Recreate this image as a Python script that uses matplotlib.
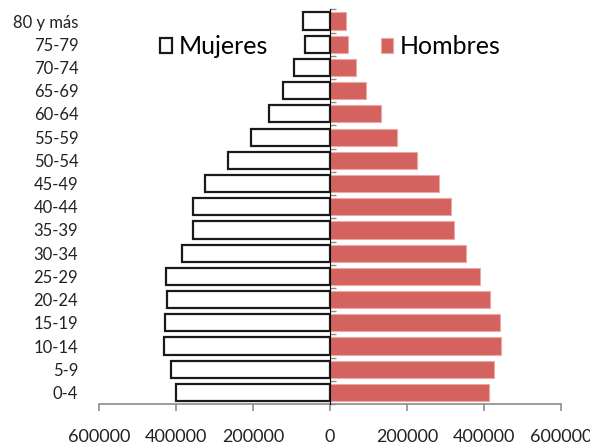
import matplotlib

matplotlib.use("Agg")
import matplotlib.pyplot as plt
from matplotlib.ticker import FuncFormatter

plt.rcParams["font.family"] = ["Lato", "DejaVu Sans"]

grupos = ["0-4", "5-9", "10-14", "15-19", "20-24", "25-29", "30-34", "35-39",
          "40-44", "45-49", "50-54", "55-59", "60-64", "65-69", "70-74",
          "75-79", "80 y más"]
mujeres = [400000, 412000, 432000, 430000, 424000, 425000, 385000, 356000,
           356000, 325000, 265000, 206000, 158000, 122000, 95000, 65000, 70000]
hombres = [414000, 426000, 444000, 441000, 415000, 390000, 352000, 322000,
           315000, 283000, 225000, 174000, 132000, 94000, 66000, 46000, 40000]
xticks = [-600000, -400000, -200000, 0, 200000, 400000, 600000]

fig = plt.figure(figsize=(5.9, 4.48), dpi=100)
ax = fig.add_axes([0.168, 0.098, 0.783, 0.881])

pos = range(len(grupos))
ax.barh(pos, [-v for v in mujeres], height=0.74, color="white",
        edgecolor="#1a1a1a", linewidth=1.6, label="Mujeres", zorder=2)
ax.barh(pos, hombres, height=0.74, color="#D4625E",
        edgecolor="#E9A9A6", linewidth=0.8, label="Hombres", zorder=2)

ax.set_ylim(-0.5, len(grupos) - 0.5)
ax.set_xlim(-600000, 600000)
ax.set_yticks(list(pos))
ax.set_yticklabels(grupos, fontsize=12, color="#222222")
ax.tick_params(axis="y", length=0, pad=15)
ax.set_xticks(xticks)
ax.xaxis.set_major_formatter(FuncFormatter(lambda v, p: f"{abs(int(v))}"))
ax.tick_params(axis="x", length=5, width=1.2, color="#8c8c8c",
               labelsize=13, labelcolor="#222222", pad=13)

for s in ["top", "right", "left"]:
    ax.spines[s].set_visible(False)
ax.spines["bottom"].set_color("#8c8c8c")
ax.spines["bottom"].set_linewidth(1.2)

# eje vertical en el cero, con marcas entre grupos
eje = ax.secondary_yaxis(0.5)
eje.set_yticks([i - 0.5 for i in range(len(grupos) + 1)])
eje.set_yticklabels([])
eje.tick_params(length=4, width=1, color="#8c8c8c")
eje.spines["left"].set_color("#8c8c8c")
eje.spines["left"].set_linewidth(1.4)
eje.set_zorder(3)

ax.legend(loc="center", bbox_to_anchor=(0.5, 0.905), ncol=2, frameon=False,
          fontsize=18, handlelength=0.5, handleheight=0.5,
          handletextpad=0.25, columnspacing=4.5)

fig.savefig("out.png", dpi=100)
plt.close(fig)
